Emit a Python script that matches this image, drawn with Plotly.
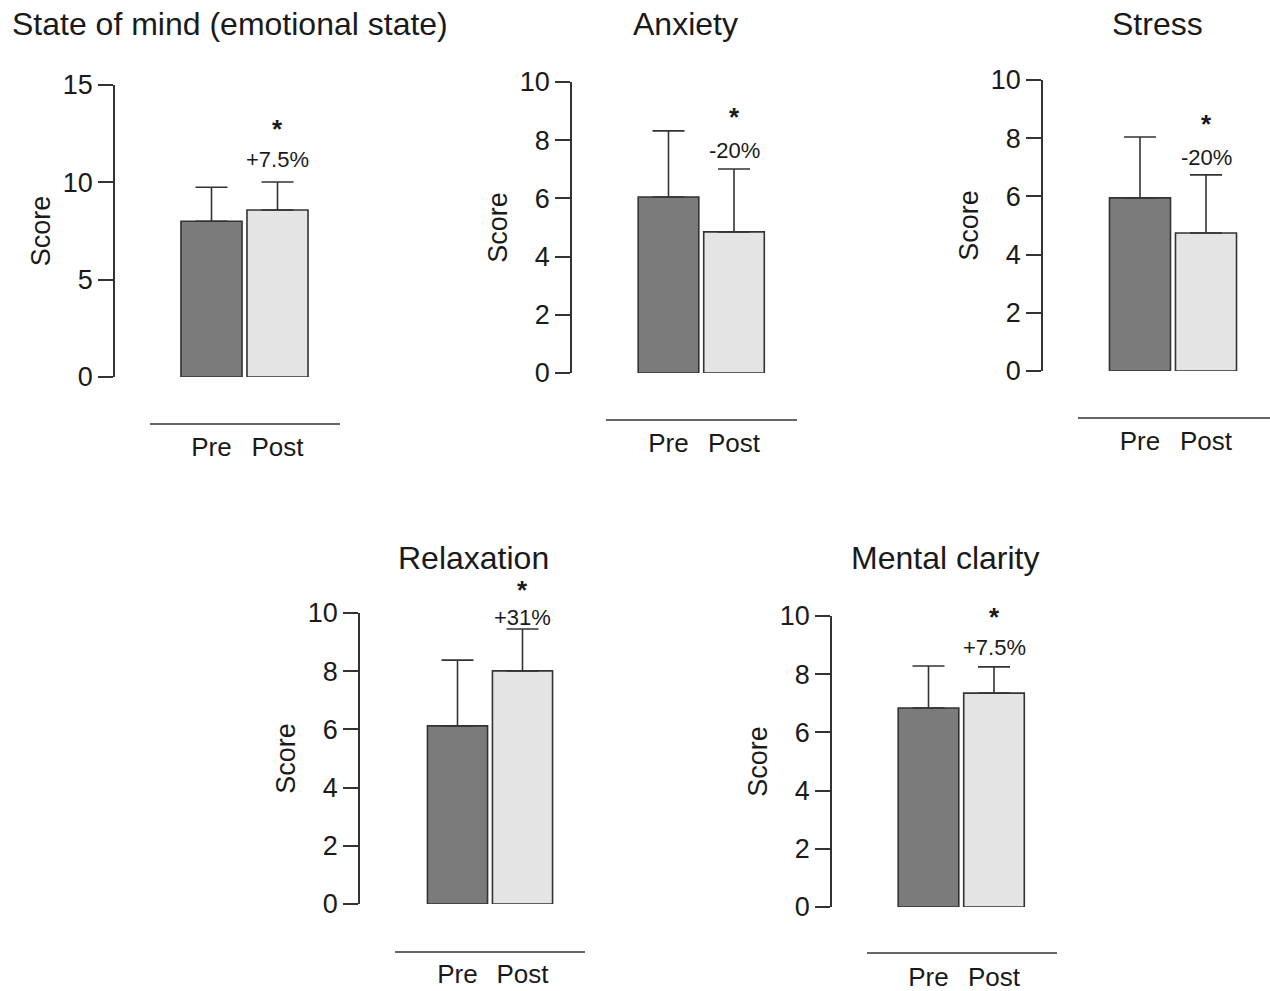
import plotly.graph_objects as go

# ---------------- data ----------------
titles = ["State of mind (emotional state)", "Anxiety", "Stress", "Relaxation", "Mental clarity"]
categories = ["Pre", "Post"]
pre_mean = [8.0, 6.05, 5.95, 6.12, 6.84]
pre_sd = [1.75, 2.27, 2.09, 2.26, 1.44]
post_mean = [8.58, 4.85, 4.74, 8.01, 7.35]
post_sd = [1.44, 2.16, 2.0, 1.44, 0.9]
changes = ["+7.5%", "-20%", "-20%", "+31%", "+7.5%"]
change_y = [11.15, 7.66, 7.35, 9.83, 8.93]
star_y = [12.84, 8.87, 8.56, 10.86, 10.03]
y_max = [15, 10, 10, 10, 10]
y_dtick = [5, 2, 2, 2, 2]

# ---------------- layout (pixels) ----------------
W, H = 1270, 991
def px(x):
    return x / W
def py(y):
    return 1 - y / H

geom = [
    dict(ax=115, right=340, top=85, bottom=377, c0=211.5, sp=66, ul=(150, 340, 424), tx=10, ty=24, ta="left"),
    dict(ax=572, right=797, top=82, bottom=373, c0=668.5, sp=65.5, ul=(606, 797, 420), tx=685, ty=24, ta="center"),
    dict(ax=1043, right=1265, top=80, bottom=371, c0=1140, sp=66, ul=(1078, 1270, 418), tx=1157, ty=24, ta="center"),
    dict(ax=360, right=585, top=613, bottom=904, c0=457.5, sp=65, ul=(395, 585, 952), tx=473, ty=558, ta="center"),
    dict(ax=832, right=1057, top=616, bottom=907, c0=928.5, sp=65.5, ul=(867, 1057, 953), tx=945, ty=558, ta="center"),
]

FONT = "Arial, Liberation Sans, Helvetica, sans-serif"
INK = "#1a1a1a"
LINE = "#333333"
PRE_COL = "#7b7b7b"
POST_COL = "#e4e4e4"

fig = go.Figure()
annotations = []
shapes = []
layout_axes = {}

for i, g in enumerate(geom):
    n = "" if i == 0 else str(i + 1)
    xa, ya = "x" + n, "y" + n
    fig.add_trace(go.Bar(
        x=categories,
        y=[pre_mean[i], post_mean[i]],
        width=0.925,
        marker=dict(color=[PRE_COL, POST_COL], line=dict(color=LINE, width=1.6)),
        error_y=dict(type="data", symmetric=False, array=[pre_sd[i], post_sd[i]],
                     arrayminus=[0, 0], color=LINE, thickness=1.6, width=16),
        xaxis=xa, yaxis=ya, showlegend=False, cliponaxis=False,
    ))
    x0 = (g["ax"] - g["c0"]) / g["sp"]
    x1 = (g["right"] - g["c0"]) / g["sp"]
    layout_axes["xaxis" + n] = dict(
        domain=[px(g["ax"]), px(g["right"])], anchor=ya, range=[x0, x1],
        showline=False, showgrid=False, zeroline=False, ticks="", automargin=False,
        tickfont=dict(family=FONT, size=26, color=INK), ticklabelstandoff=52,
    )
    layout_axes["yaxis" + n] = dict(
        domain=[py(g["bottom"]), py(g["top"])], anchor=xa, range=[0, y_max[i]],
        dtick=y_dtick[i], tick0=0, showline=True, linecolor=LINE, linewidth=1.6,
        ticks="outside", ticklen=15, tickwidth=1.6, tickcolor=LINE, automargin=False,
        showgrid=False, zeroline=False,
        tickfont=dict(family=FONT, size=27, color=INK),
        title=dict(text="Score", font=dict(family=FONT, size=27, color=INK), standoff=4),
    )
    ul = g["ul"]
    shapes.append(dict(type="line", xref="paper", yref="paper",
                       x0=px(ul[0]), x1=px(ul[1]), y0=py(ul[2]), y1=py(ul[2]),
                       line=dict(color=LINE, width=1.6)))
    annotations.append(dict(text=titles[i], xref="paper", yref="paper",
                            x=px(g["tx"]), y=py(g["ty"]), xanchor=g["ta"], yanchor="middle",
                            showarrow=False, font=dict(family=FONT, size=32, color=INK)))
    annotations.append(dict(text=changes[i], xref=xa, yref=ya + " domain", x="Post",
                            y=change_y[i] / y_max[i],
                            xanchor="center", yanchor="middle", showarrow=False,
                            font=dict(family=FONT, size=22, color=INK)))
    annotations.append(dict(text="<b>*</b>", xref=xa, yref=ya + " domain", x="Post",
                            y=star_y[i] / y_max[i],
                            xanchor="center", yanchor="middle", showarrow=False, yshift=-2,
                            font=dict(family=FONT, size=26, color=INK)))

fig.update_layout(
    width=W, height=H, margin=dict(l=0, r=0, t=0, b=0, autoexpand=False),
    paper_bgcolor="white", plot_bgcolor="white",
    annotations=annotations, shapes=shapes, bargap=0.075,
    **layout_axes,
)

fig.write_html("out.html", config={"displayModeBar": False},
               post_script="document.body.style.margin='0';document.body.style.overflow='hidden';")
